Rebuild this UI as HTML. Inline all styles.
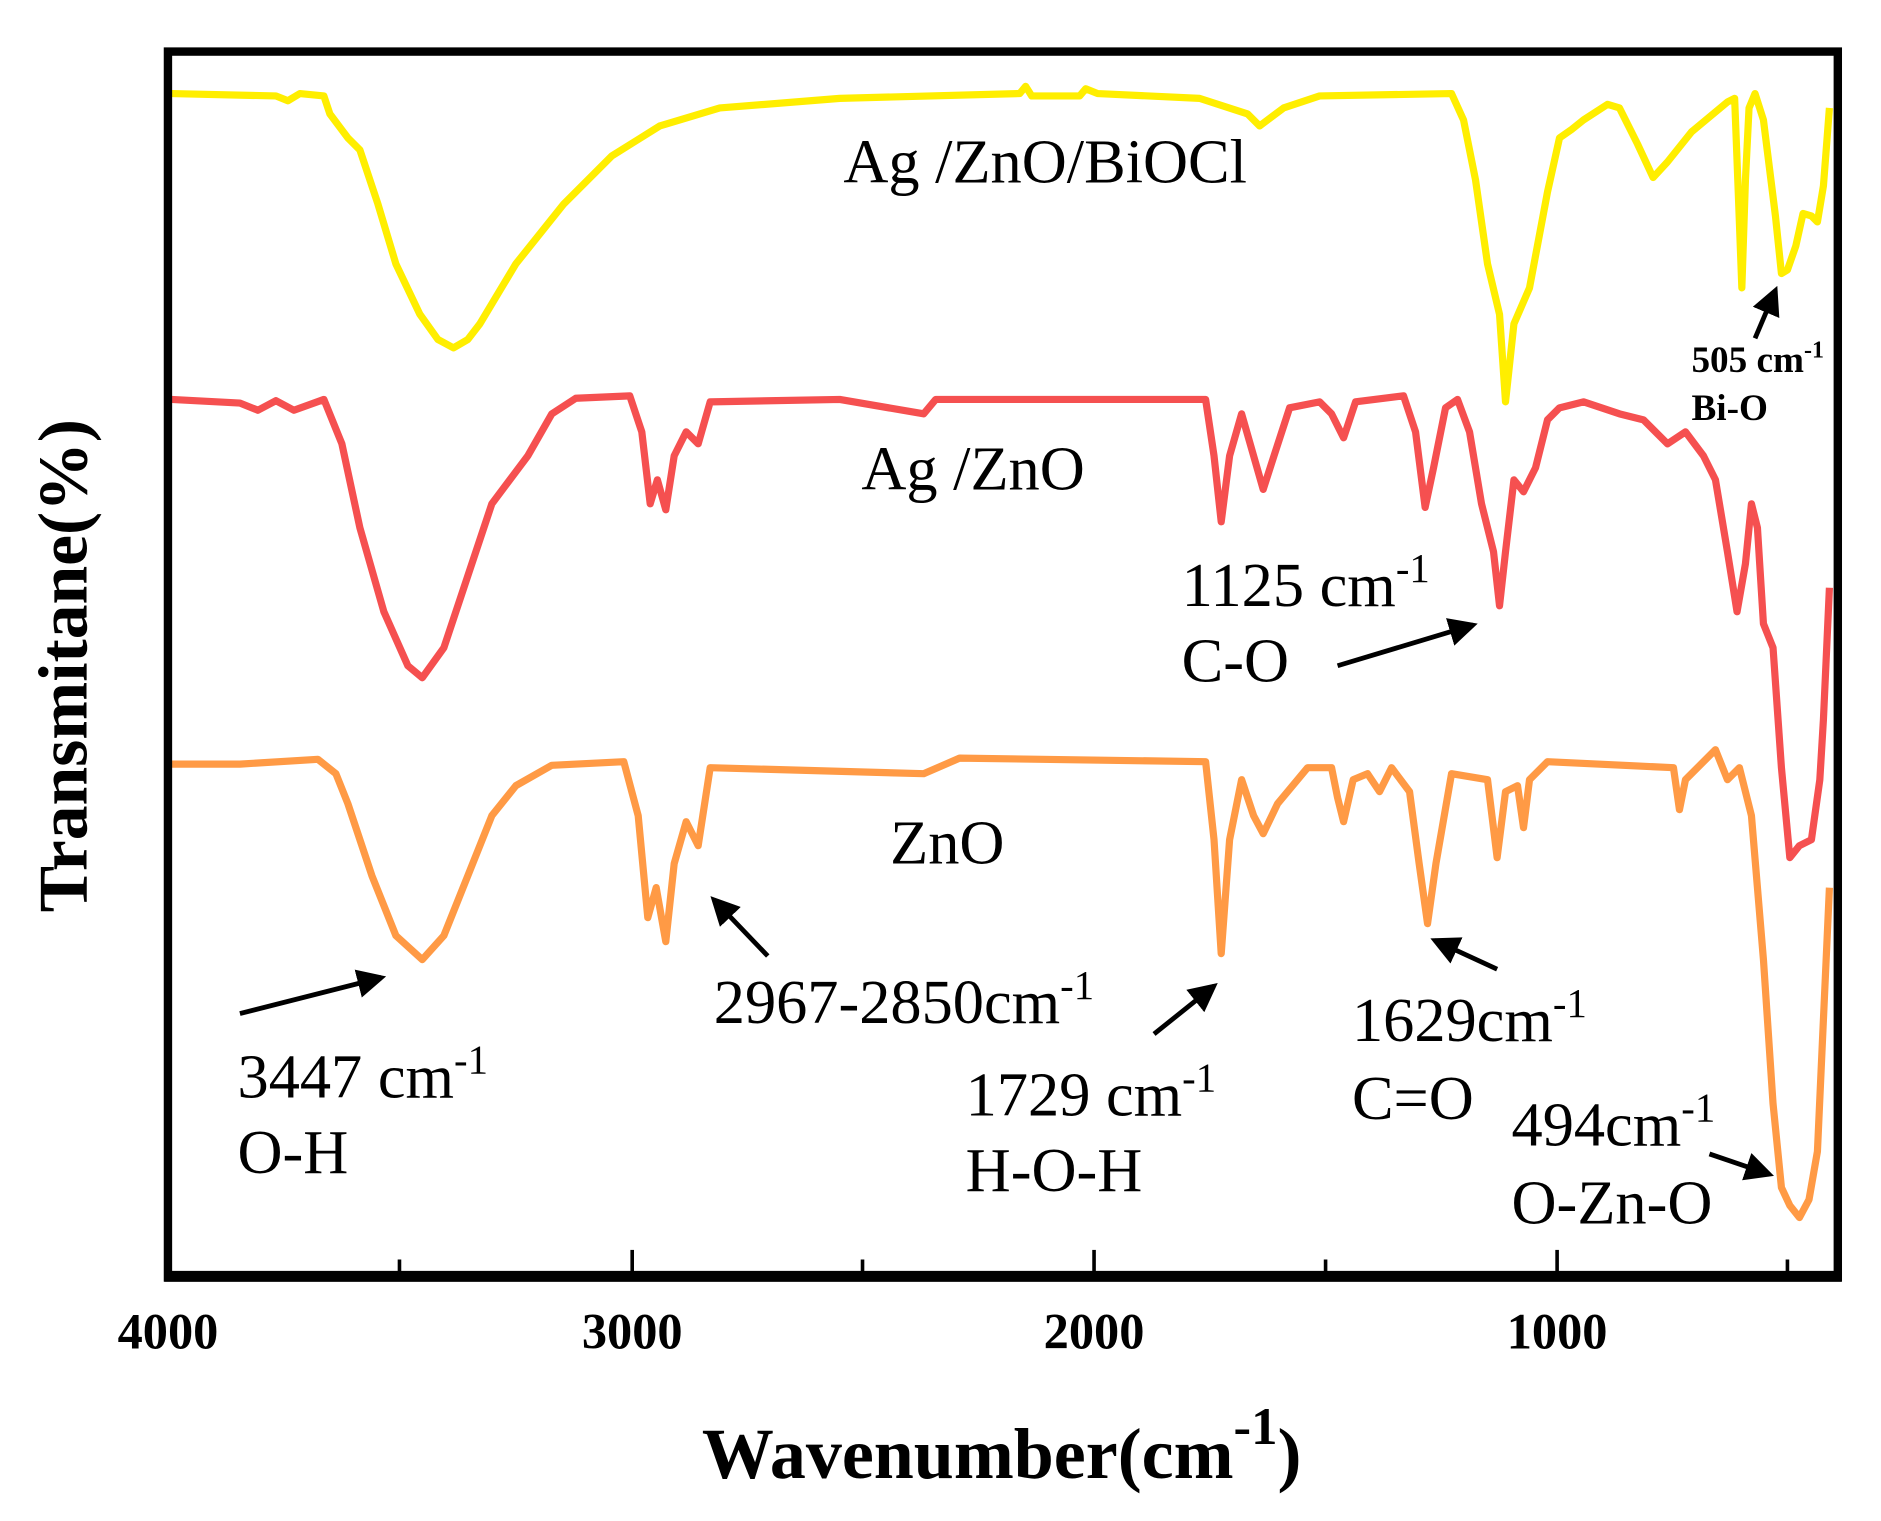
<!DOCTYPE html>
<html><head><meta charset="utf-8"><style>
html,body{margin:0;padding:0;background:#fff;}
svg{display:block;}
text{font-family:"Liberation Serif",serif;fill:#000;}
</style></head><body>
<svg width="1881" height="1521" viewBox="0 0 1568 1268" preserveAspectRatio="none" xmlns="http://www.w3.org/2000/svg">
<defs><marker id="ah" markerWidth="6" markerHeight="6" refX="5" refY="3" orient="auto" markerUnits="strokeWidth"><path d="M0,0 L6,3 L0,6 Z" fill="#000"/></marker></defs>
<g fill="none" stroke-width="6" stroke-linejoin="round">
<polyline stroke="#FFEE00" points="143,78 230,80 240,84 250,78 270,80 275,95 290,115 300,125 315,170 330,220 350,262 365,283 378,290 390,283 400,270 430,220 470,170 510,130 550,105 600,90 700,82 850,78 855,72 860,80 900,80 905,74 915,78 1000,82 1040,95 1050,105 1070,90 1100,80 1210,78 1220,100 1230,150 1240,220 1250,262 1255,335 1262,270 1275,240 1290,160 1300,115 1310,108 1320,100 1340,87 1350,90 1365,120 1378,148 1390,135 1410,110 1440,85 1446,82 1449,160 1452,240 1455,150 1458,90 1463,78 1470,100 1480,180 1485,228 1490,225 1497,205 1503,178 1510,180 1515,185 1520,155 1525,90"/>
<polyline stroke="#F55050" points="143,333 200,336 215,342 230,334 245,342 270,333 285,370 300,440 320,510 340,555 352,565 370,540 390,480 410,420 440,380 460,345 480,332 525,330 535,360 542,420 548,400 555,425 562,380 572,360 582,370 592,335 700,333 770,345 780,333 1005,333 1012,380 1018,435 1025,380 1035,345 1045,380 1053,408 1062,380 1075,340 1100,335 1110,345 1120,365 1130,335 1170,330 1180,360 1188,423 1195,390 1205,340 1215,333 1225,360 1235,420 1245,460 1250,505 1255,460 1262,400 1270,410 1280,390 1290,350 1300,340 1320,335 1350,345 1370,350 1390,370 1405,360 1420,380 1430,400 1440,460 1448,510 1455,470 1460,420 1465,440 1470,520 1478,540 1485,640 1492,715 1500,705 1510,700 1517,650 1520,600 1525,490"/>
<polyline stroke="#FF9A45" points="143,637 200,637 265,633 280,645 290,670 310,730 330,780 352,800 370,780 390,730 410,680 430,655 460,638 520,635 532,680 540,765 547,740 555,785 562,720 572,685 582,705 592,640 770,645 800,632 1005,635 1012,700 1018,795 1025,700 1035,650 1045,680 1053,695 1065,670 1090,640 1110,640 1115,665 1120,685 1128,650 1140,645 1150,660 1160,640 1175,660 1183,720 1190,770 1197,720 1210,645 1240,650 1248,715 1255,660 1265,655 1270,690 1275,650 1290,635 1395,640 1400,675 1405,650 1430,625 1440,650 1450,640 1460,680 1470,800 1478,920 1485,990 1492,1005 1500,1015 1508,1000 1515,960 1520,850 1525,740"/>
</g>
<rect x="140" y="43" width="1392" height="1022" fill="none" stroke="#000" stroke-width="7"/>
<line x1="137" y1="1064" x2="1535" y2="1064" stroke="#000" stroke-width="9"/>
<g stroke="#000" stroke-width="3">
<line x1="140" y1="1060" x2="140" y2="1042"/><line x1="333" y1="1060" x2="333" y2="1050"/>
<line x1="527" y1="1060" x2="527" y2="1042"/><line x1="719" y1="1060" x2="719" y2="1050"/>
<line x1="912" y1="1060" x2="912" y2="1042"/><line x1="1105" y1="1060" x2="1105" y2="1050"/>
<line x1="1298" y1="1060" x2="1298" y2="1042"/><line x1="1490" y1="1060" x2="1490" y2="1050"/>
</g>
<g font-weight="bold" font-size="42" text-anchor="middle">
<text x="140" y="1124">4000</text><text x="527" y="1124">3000</text><text x="912" y="1124">2000</text><text x="1298" y="1124">1000</text>
</g>
<text x="835" y="1232" text-anchor="middle" font-weight="bold" font-size="60">Wavenumber(cm<tspan font-size="44" dy="-28">-1</tspan><tspan dy="28">)</tspan></text>
<text transform="translate(72,555) rotate(-90)" text-anchor="middle" font-weight="bold" font-size="58">Transmitane(%)</text>
<g font-size="52">
<text x="703" y="152">Ag /ZnO/BiOCl</text>
<text x="718" y="408">Ag /ZnO</text>
<text x="742" y="720">ZnO</text>
<text x="985" y="505">1125 cm<tspan font-size="34" dy="-20">-1</tspan></text>
<text x="985" y="568">C-O</text>
<text x="198" y="915">3447 cm<tspan font-size="34" dy="-20">-1</tspan></text>
<text x="198" y="978">O-H</text>
<text x="595" y="853">2967-2850cm<tspan font-size="34" dy="-20">-1</tspan></text>
<text x="805" y="930">1729 cm<tspan font-size="34" dy="-20">-1</tspan></text>
<text x="805" y="993">H-O-H</text>
<text x="1127" y="868">1629cm<tspan font-size="34" dy="-20">-1</tspan></text>
<text x="1127" y="933">C=O</text>
<text x="1260" y="955">494cm<tspan font-size="34" dy="-20">-1</tspan></text>
<text x="1260" y="1020">O-Zn-O</text>
</g>
<g font-size="31" font-weight="bold">
<text x="1410" y="310">505 cm<tspan font-size="20" dy="-12">-1</tspan></text>
<text x="1410" y="350">Bi-O</text>
</g>
<g stroke="#000" stroke-width="4" marker-end="url(#ah)">
<line x1="200" y1="845" x2="318" y2="815"/>
<line x1="640" y1="797" x2="595" y2="750"/>
<line x1="962" y1="862" x2="1012" y2="822"/>
<line x1="1248" y1="808" x2="1196" y2="784"/>
<line x1="1115" y1="555" x2="1228" y2="521"/>
<line x1="1425" y1="962" x2="1475" y2="979"/>
<line x1="1463" y1="282" x2="1480" y2="242"/>
</g>
</svg>
</body></html>
